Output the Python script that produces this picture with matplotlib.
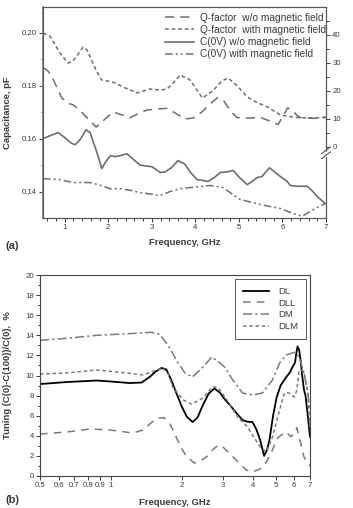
import matplotlib
matplotlib.use("Agg")
import matplotlib.pyplot as plt
from matplotlib.ticker import FixedLocator, MultipleLocator, NullFormatter

plt.rcParams['font.family'] = ['Liberation Sans', 'DejaVu Sans']

# ---------------- Panel (a) data ----------------
f_cwo = [0.5, 0.66, 0.85, 1.0, 1.15, 1.24, 1.35, 1.49, 1.58, 1.74, 1.85, 1.95, 2.05, 2.15, 2.3, 2.43,
         2.55, 2.73, 2.9, 3.0, 3.1, 3.19, 3.3, 3.45, 3.6, 3.75, 3.9, 4.04, 4.15, 4.29, 4.45, 4.57,
         4.75, 4.87, 5.0, 5.19, 5.3, 5.42, 5.53, 5.7, 5.85, 5.95, 6.1, 6.18, 6.35, 6.57, 6.7, 6.8, 6.98]
c_wo = [0.160, 0.1611, 0.1623, 0.1604, 0.1583, 0.1577, 0.1596, 0.1634, 0.1623, 0.1547, 0.1487, 0.1515,
        0.1536, 0.1532, 0.1537, 0.1543, 0.1525, 0.150, 0.1496, 0.1494, 0.1483, 0.1472, 0.1474, 0.149,
        0.1517, 0.1505, 0.147, 0.1445, 0.1443, 0.1438, 0.1455, 0.1472, 0.1475, 0.148, 0.1455, 0.1426,
        0.1438, 0.1453, 0.1457, 0.149, 0.147, 0.1457, 0.144, 0.1423, 0.142, 0.142, 0.140, 0.1381, 0.1355]

f_cwi = [0.5, 0.89, 1.19, 1.58, 1.8, 2.04, 2.27, 2.5, 2.73, 3.0, 3.19, 3.42, 3.65, 3.88, 4.34, 4.64,
         4.85, 5.03, 5.49, 5.95, 6.2, 6.45, 6.71, 6.98]
c_wi = [0.1449, 0.1445, 0.1434, 0.1434, 0.1425, 0.1411, 0.1411, 0.1405, 0.1396, 0.139, 0.1385, 0.140,
        0.1411, 0.1415, 0.1423, 0.1415, 0.139, 0.137, 0.1351, 0.1336, 0.132, 0.1306, 0.1332, 0.1355]

f_qwo = [0.5, 0.62, 0.72, 0.93, 1.1, 1.2, 1.35, 1.51, 1.72, 1.9, 2.11, 2.3, 2.5, 2.7, 2.89, 3.1, 3.35,
         3.55, 3.75, 3.95, 4.15, 4.35, 4.5, 4.65, 4.8, 4.95, 5.2, 5.5, 5.75, 5.9, 6.05, 6.12, 6.25, 6.4,
         6.7, 7.0]
q_wo = [28.5, 27.0, 24.6, 17.5, 15.5, 15.0, 13.0, 10.4, 7.1, 9.6, 12.5, 11.5, 10.4, 12.0, 13.2, 13.5,
        13.8, 12.0, 10.0, 10.3, 12.5, 15.5, 17.5, 16.5, 13.0, 10.5, 10.3, 10.5, 9.0, 8.0, 12.0, 14.0,
        12.5, 10.5, 10.2, 10.5]

f_qwi = [0.5, 0.66, 0.89, 1.07, 1.17, 1.3, 1.42, 1.51, 1.74, 1.85, 2.0, 2.15, 2.4, 2.66, 2.96, 3.2,
         3.35, 3.5, 3.65, 3.88, 4.16, 4.4, 4.6, 4.75, 4.95, 5.19, 5.4, 5.65, 5.95, 6.2, 6.41, 6.8, 6.98]
q_wi = [40.7, 39.6, 33.6, 30.0, 30.4, 33.0, 35.7, 34.6, 26.8, 23.9, 23.5, 22.9, 21.0, 19.3, 20.7, 20.3,
        20.7, 23.0, 25.7, 23.9, 17.5, 20.0, 23.5, 24.6, 22.0, 17.9, 16.0, 14.3, 11.4, 10.8, 10.4, 10.4, 10.7]

labels_a = ["Q-factor  w/o magnetic field", "Q-factor  with magnetic field",
            "C(0V) w/o magnetic field", "C(0V) with magnetic field"]

# ---------------- Panel (b) data ----------------
f_dl = [0.5, 0.65, 0.87, 1.0, 1.2, 1.35, 1.46, 1.55, 1.64, 1.72, 1.8, 1.9, 2.0, 2.1, 2.22, 2.33, 2.45,
        2.6, 2.75, 2.9, 3.05, 3.2, 3.4, 3.62, 3.8, 3.99, 4.15, 4.3, 4.47, 4.6, 4.71, 4.88, 5.05, 5.25,
        5.55, 5.75, 5.9, 6.05, 6.12, 6.2, 6.3, 6.4, 6.5, 6.6, 6.7, 6.85, 7.0]
t_dl = [9.15, 9.35, 9.5, 9.4, 9.25, 9.3, 9.85, 10.4, 10.75, 10.6, 9.6, 8.2, 6.9, 5.9, 5.37, 5.8, 7.0,
        8.2, 8.7, 8.3, 7.6, 7.06, 6.3, 5.57, 5.4, 5.37, 4.6, 3.58, 2.0, 2.6, 3.58, 6.0, 7.8, 9.0, 9.85,
        10.3, 10.85, 11.3, 12.2, 12.9, 12.5, 11.3, 9.8, 8.6, 8.0, 6.0, 3.9]

f_dll = [0.5, 0.65, 0.815, 0.99, 1.24, 1.37, 1.5, 1.58, 1.68, 1.77, 1.9, 2.0, 2.1, 2.26, 2.4, 2.56, 2.7,
         2.86, 3.0, 3.2, 3.5, 3.75, 3.99, 4.3, 4.57, 4.85, 5.1, 5.3, 5.55, 5.8, 6.0, 6.15, 6.45, 6.6,
         6.77, 7.0]
t_dll = [4.18, 4.38, 4.68, 4.58, 4.28, 4.58, 5.4, 5.77, 5.8, 5.3, 3.78, 2.7, 1.9, 1.29, 1.5, 1.95, 2.6,
         3.08, 2.85, 2.2, 1.3, 0.6, 0.4, 0.7, 1.39, 2.6, 3.78, 4.1, 4.38, 3.9, 4.2, 4.8, 2.89, 1.9, 1.39, 1.0]

f_dm = [0.5, 0.65, 0.87, 1.17, 1.49, 1.61, 1.75, 1.9, 2.06, 2.22, 2.46, 2.68, 2.88, 3.05, 3.29, 3.62,
        3.99, 4.4, 4.85, 5.2, 5.55, 6.0, 6.3, 6.6, 6.85, 7.0]
t_dm = [13.5, 13.7, 14.0, 14.15, 14.3, 14.1, 13.0, 11.5, 10.25, 9.85, 10.85, 11.84, 11.34, 10.8, 9.55,
        8.26, 8.06, 8.26, 9.55, 11.24, 12.04, 12.3, 11.84, 10.25, 8.26, 6.5]

f_dlm = [0.5, 0.65, 0.87, 1.17, 1.37, 1.57, 1.66, 1.75, 1.83, 2.03, 2.2, 2.46, 2.7, 2.85, 3.1, 3.45,
         3.8, 4.3, 4.57, 4.85, 5.2, 5.45, 5.7, 6.0, 6.15, 6.3, 6.5, 6.6, 6.85, 7.0]
t_dlm = [10.15, 10.25, 10.55, 10.25, 10.05, 10.55, 10.75, 10.2, 8.86, 7.56, 7.16, 7.76, 8.86, 8.8, 7.6,
         5.9, 4.88, 2.89, 2.39, 3.88, 6.57, 8.26, 8.26, 7.86, 8.5, 10.55, 10.5, 10.35, 8.26, 4.5]

labels_b = ["DL", "DLL", "DM", "DLM"]
xticks_b = [0.5, 0.6, 0.7, 0.8, 0.9, 1, 2, 3, 4, 5, 6, 7]
xticklabels_b = ["0.5", "0.6", "0.7", "0.8", "0.9", "1", "2", "3", "4", "5", "6", "7"]

# ---------------- Figure ----------------
W, H = 353, 508
fig = plt.figure(figsize=(W / 100, H / 100), dpi=100)
TXT = '#3a3a3a'
GRAY = '#6e6e6e'
tick_fs = 5.6

def ax_rect(l, t, r, b):
    return [l / W, 1 - b / H, (r - l) / W, (b - t) / H]

# Panel (a)
ax = fig.add_axes(ax_rect(43, 7, 326, 218))
ax2 = ax.twinx()
la1, = ax2.plot(f_qwo, q_wo, color=GRAY, lw=1.1, dashes=(6, 4))
la2, = ax2.plot(f_qwi, q_wi, color=GRAY, lw=1.1, dashes=(2.5, 1.8))
la3, = ax.plot(f_cwo, c_wo, color=GRAY, lw=1.2)
la4, = ax.plot(f_cwi, c_wi, color=GRAY, lw=1.1, dashes=(5, 2, 1.3, 2, 1.3, 2))
ax.set_xlim(0.5, 7)
ax.set_ylim(0.13, 0.2098)
ax2.set_ylim(-25.4, 50)
ax.xaxis.set_major_locator(FixedLocator([1, 2, 3, 4, 5, 6, 7]))
ax.xaxis.set_minor_locator(MultipleLocator(0.2))
ax.yaxis.set_major_locator(FixedLocator([0.14, 0.16, 0.18, 0.20]))
ax.yaxis.set_minor_locator(FixedLocator([0.15, 0.17, 0.19]))
ax.set_yticklabels(["0.14", "0.16", "0.18", "0.20"])
ax2.yaxis.set_major_locator(FixedLocator([0, 10, 20, 30, 40]))
ax2.yaxis.set_minor_locator(FixedLocator([5, 15, 25, 35, 45]))
for a in (ax, ax2):
    a.tick_params(which='both', direction='out', labelsize=tick_fs, colors=TXT, width=0.7, pad=1.5)
    a.tick_params(which='major', length=3.0)
    a.tick_params(which='minor', length=1.8)
    for s in a.spines.values():
        s.set_color('#555555')
        s.set_linewidth(0.8)
ax.spines['left'].set_linewidth(1.3)
ax.spines['left'].set_color('#888888')
ax.set_xlabel("Frequency, GHz", fontsize=6.8, fontweight='bold', color=TXT, labelpad=5)
ax.set_ylabel("Capacitance, pF", fontsize=6.8, fontweight='bold', color=TXT, labelpad=7)
# axis break on right spine
ybreak = -2.1
ax2.plot([6.93, 7.07], [ybreak - 1.6, ybreak + 0.2], color='white', lw=3, clip_on=False,
         transform=ax2.transData, zorder=10)
for dy in (-0.9, 0.9):
    ax2.plot([6.9, 7.1], [ybreak + dy - 1.2, ybreak + dy + 1.2], color='#555555', lw=0.8,
             clip_on=False, zorder=11)
leg = ax.legend([la1, la2, la3, la4], labels_a, loc='upper right', frameon=False,
                fontsize=7.3, handlelength=2.9, handletextpad=0.6, labelspacing=0.22,
                borderaxespad=0.0, borderpad=0.1, bbox_to_anchor=(1.004, 0.978))
for t in leg.get_texts():
    t.set_color(TXT)
fig.text(5 / W, 1 - 246 / H, "(a)", fontsize=8, fontweight='bold', color=TXT, va='center')

# Panel (b)
bx = fig.add_axes(ax_rect(40, 275, 310, 476))
lb1, = bx.plot(f_dl, t_dl, color='black', lw=1.3)
lb2, = bx.plot(f_dll, t_dll, color='#7a7a7a', lw=1.1, dashes=(5, 4))
lb3, = bx.plot(f_dm, t_dm, color='#7a7a7a', lw=1.1, dashes=(6, 2, 1.5, 2))
lb4, = bx.plot(f_dlm, t_dlm, color='#7a7a7a', lw=1.1, dashes=(2.3, 1.8))
bx.set_xscale('log')
bx.set_xlim(0.5, 7)
bx.set_ylim(0, 20)
bx.xaxis.set_major_locator(FixedLocator(xticks_b))
bx.xaxis.set_minor_formatter(NullFormatter())
bx.xaxis.set_minor_locator(FixedLocator([]))
bx.set_xticklabels(xticklabels_b)
bx.yaxis.set_major_locator(MultipleLocator(2))
bx.yaxis.set_minor_locator(MultipleLocator(1))
bx.tick_params(which='both', direction='out', labelsize=tick_fs, colors=TXT, width=0.7, pad=1.5)
bx.tick_params(which='major', length=3.0)
bx.tick_params(which='minor', length=1.8)
for s in bx.spines.values():
    s.set_color('#444444')
    s.set_linewidth(0.8)
bx.set_xlabel("Frequency, GHz", fontsize=6.8, fontweight='bold', color=TXT, labelpad=6)
bx.set_ylabel("Tuning (C(0)-C(100))/C(0),  %", fontsize=6.8, fontweight='bold', color=TXT, labelpad=9)
legb = bx.legend([lb1, lb2, lb3, lb4], labels_b, loc='upper right', fontsize=6.8,
                 handlelength=2.7, handletextpad=1.0, labelspacing=0.3, borderaxespad=0.4,
                 borderpad=0.85, fancybox=False, edgecolor='#555555', framealpha=1)
legb.get_frame().set_linewidth(0.7)
for t in legb.get_texts():
    t.set_color(TXT)
fig.text(5 / W, 1 - 500 / H, "(b)", fontsize=8, fontweight='bold', color=TXT, va='center')

fig.savefig("out.png", dpi=100)
